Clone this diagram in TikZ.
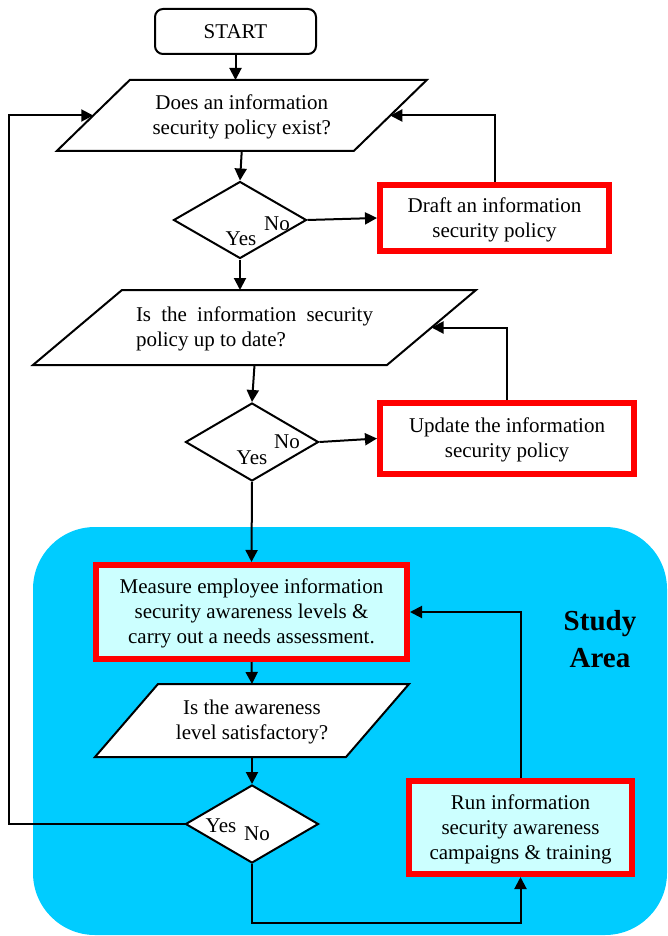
\documentclass[tikz,border=0pt]{standalone}
\usepackage{fontspec}
\setmainfont{Liberation Serif}
\usetikzlibrary{arrows.meta,shapes.geometric}
\definecolor{studyblue}{RGB}{0,204,255}
\definecolor{lightcyan}{RGB}{204,255,255}
\definecolor{boxred}{RGB}{255,0,0}
\pgfdeclarelayer{back}
\pgfdeclarelayer{bg}
\pgfsetlayers{back,bg,main}
\newcommand{\lowstrut}{\rule{0pt}{18.5pt}}
\begin{document}
\begin{tikzpicture}[x=1pt,y=-1pt,
  txt/.style={font=\fontsize{21}{25}\selectfont},
  line/.style={draw=black,line width=2pt},
  arr/.style={line,-{Triangle[length=12pt,width=12pt]}},
  startbox/.style={txt,draw=black,line width=2pt,rounded corners=8pt,fill=white,
    minimum width=161pt,minimum height=45pt,inner sep=0pt},
  pbox/.style={txt,align=center,inner sep=0pt,outer sep=0pt},
  para/.style={line,fill=white},
  dia/.style={diamond,draw=black,line width=2pt,fill=white,inner sep=0pt,
    minimum width=133pt,minimum height=78pt},
  redbox/.style={txt,draw=boxred,line width=6pt,align=center,inner sep=0pt},
  lbl/.style={txt,inner sep=0pt},
  studylbl/.style={font=\fontsize{29}{37}\selectfont\bfseries,align=center,inner sep=0pt}
]
\useasboundingbox (0,0) rectangle (667,936);
\begin{pgfonlayer}{back}
  \fill[studyblue,rounded corners=62pt] (33,527) rectangle (667,935);
\end{pgfonlayer}

% nodes
\node[startbox] (start) at (235.5,31.5) {START};
\node[pbox,minimum width=297pt,minimum height=71pt] (p1) at (241.75,115.5)
  {\lowstrut Does an information\\security policy exist?};
\node[dia,minimum height=77pt] (d1) at (240,220) {};
\node[redbox,fill=white,minimum width=229pt,minimum height=66pt] (draft) at (494.5,218)
  {\lowstrut Draft an information\\security policy};
\node[pbox,minimum width=354pt,minimum height=75pt,text width=237pt,align=justify] (p2) at (254.5,327.5)
  {\lowstrut Is the information security policy up to date?};
\node[dia] (d2) at (252,442) {};
\node[redbox,fill=white,minimum width=254pt,minimum height=71pt] (upd) at (507,438.5)
  {\lowstrut Update the information\\security policy};
\node[redbox,fill=lightcyan,minimum width=311pt,minimum height=94pt] (meas) at (251.5,612)
  {\lowstrut Measure employee information\\security awareness levels \&\\carry out a needs assessment.};
\node[pbox,minimum width=251pt,minimum height=73pt] (p3) at (252,720.5)
  {\lowstrut Is the awareness\\level satisfactory?};
\node[dia] (d3) at (252,824) {};
\node[redbox,fill=lightcyan,minimum width=223pt,minimum height=93pt] (run) at (520.5,827.5)
  {\lowstrut Run information\\security awareness\\campaigns \& training};
\node[studylbl] (study) at (600,639) {Study\\Area};

% parallelogram outlines
\begin{pgfonlayer}{bg}
  \draw[para] ([xshift=36.5pt]p1.north west) -- ([xshift=36.5pt]p1.north east)
    -- ([xshift=-36.5pt]p1.south east) -- ([xshift=-36.5pt]p1.south west) -- cycle;
  \draw[para] ([xshift=44.5pt]p2.north west) -- ([xshift=44.5pt]p2.north east)
    -- ([xshift=-44.5pt]p2.south east) -- ([xshift=-44.5pt]p2.south west) -- cycle;
  \draw[para] ([xshift=31.5pt]p3.north west) -- ([xshift=31.5pt]p3.north east)
    -- ([xshift=-31.5pt]p3.south east) -- ([xshift=-31.5pt]p3.south west) -- cycle;
\end{pgfonlayer}

% decision labels
\node[lbl] (no1) at (277,224) {No};
\node[lbl] (yes1) at (241,239) {Yes};
\node[lbl] (no2) at (287,442) {No};
\node[lbl] (yes2) at (252,458) {Yes};
\node[lbl] (yes3) at (221,826) {Yes};
\node[lbl] (no3) at (257,834) {No};

% connectors
\coordinate (lx) at (9,0);
\coordinate (by) at (0,923);
\draw[arr] (start.south) -- (start.south |- p1.north);
\draw[arr] (p1.south) -- (d1.north);
\draw[arr] (d1.east) -- (draft.west);
\draw[arr] (draft.north) |- (p1.east);
\draw[arr] (d1.south) -- (d1.south |- p2.north);
\draw[arr] (p2.south) -- (d2.north);
\draw[arr] (d2.east) -- (upd.west);
\draw[arr] (upd.north) |- (p2.east);
\draw[arr] (d2.south) -- (meas.north);
\draw[arr] (meas.south) -- (p3.north);
\draw[arr] (p3.south) -- (d3.north);
\draw[arr] (d3.west) -- (d3.west -| lx) |- (p1.west);
\draw[arr] (d3.south) -- (d3.south |- by) -| (run.south);
\draw[arr] (run.north) |- (meas.east);
\end{tikzpicture}
\end{document}
